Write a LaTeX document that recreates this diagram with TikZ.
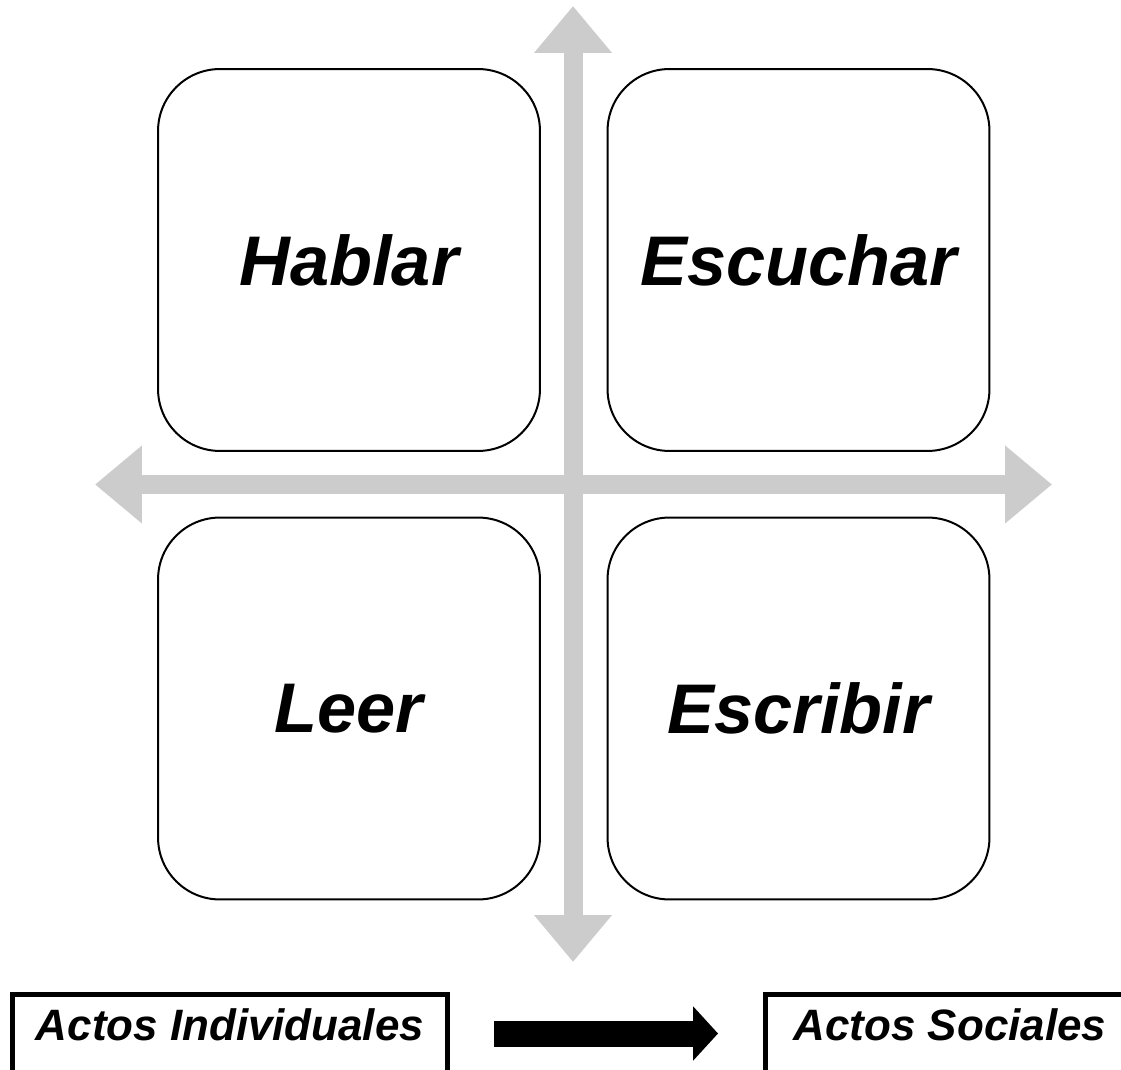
\documentclass[tikz,border=0pt]{standalone}
\usepackage{fontspec}
\setmainfont{Liberation Sans}
\usetikzlibrary{arrows.meta}
\definecolor{axisgray}{RGB}{204,204,204}

\begin{document}
\begin{tikzpicture}[x=0.02cm,y=-0.02cm,
    skill/.style={draw,line width=0.04cm,rounded corners=1.24cm,fill=white,minimum width=7.64cm,minimum height=7.64cm,inner sep=0pt,font=\fontsize{40}{48}\selectfont\bfseries\itshape},
    acto/.style={draw,line width=0.1cm,inner sep=0pt,text height=0.92cm,text depth=0.66cm,font=\fontsize{25}{30}\selectfont\bfseries\itshape},
    axis/.style={axisgray,line width=0.38cm,>={Triangle[width=1.5cm,length=0.94cm]},<->}]
        \useasboundingbox (0,0) rectangle (1121,1070);
        \coordinate (top) at (573,6);
        \coordinate (bottom) at (573,962);
        \coordinate (left) at (95,484.5);
        \coordinate (right) at (1052,484.5);
        \draw[axis] (top) -- (bottom);
        \draw[axis] (left) -- (right);

        \node[skill] (hablar) at (349,260) {Hablar};
        \node[skill] (escuchar) at (798.5,260) {Escuchar};
        \node[skill] (leer) at (349,708.5) {Leer};
        \node[skill] (escribir) at (798.5,708.5) {Escribir};

        \node[acto,minimum width=8.7cm] (individual) at (230,1033.5) {Actos Individuales};
        \node[acto,minimum width=7.4cm] (social) at (950,1033.5) {Actos Sociales};
        \draw[line width=0.52cm,-{Triangle[width=1.06cm,length=0.5cm]},shorten <=0.88cm,shorten >=0.89cm] (individual) -- (social);
      \end{tikzpicture}
\end{document}
